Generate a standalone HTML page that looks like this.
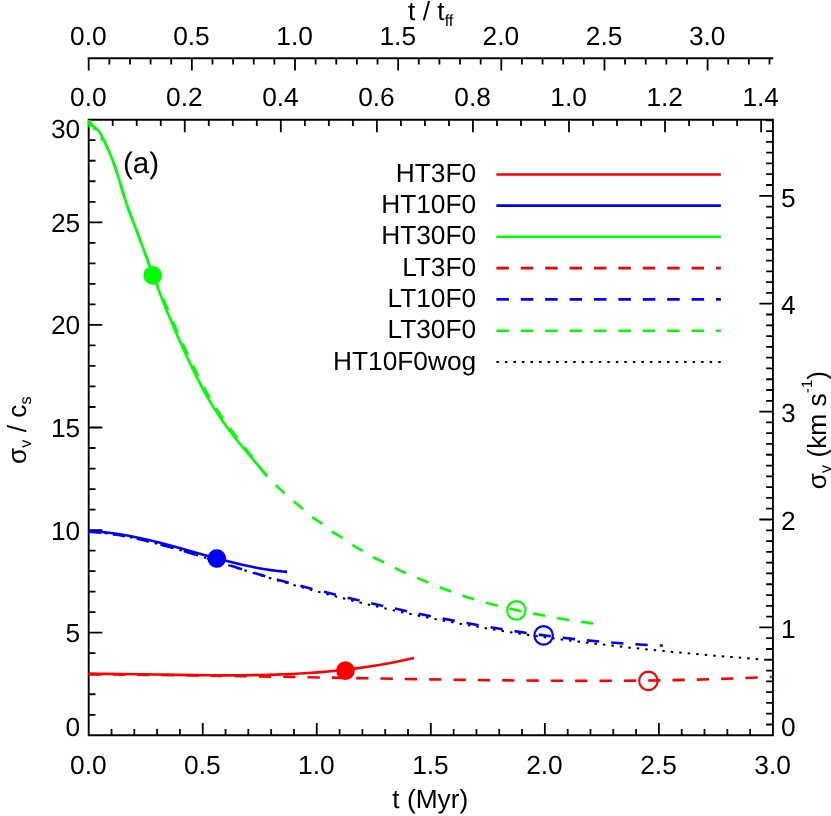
<!DOCTYPE html>
<html><head><meta charset="utf-8"><title>chart</title>
<style>html,body{margin:0;padding:0;background:#fff;overflow:hidden}svg{display:block;will-change:transform}</style>
</head><body>
<svg width="831" height="816" viewBox="0 0 831 816">
<rect width="831" height="816" fill="#fff"/>
<g stroke="#000" fill="none" stroke-linecap="butt">
<path d="M88.70 119.80 H772.95 V735.30 H88.70 Z" stroke-width="1.90" stroke-linejoin="miter"/>
<path d="M87.75 58.20 H773.25" stroke-width="1.90"/>
<path d="M111.51 735.30 V729.00 M134.32 735.30 V729.00 M157.12 735.30 V729.00 M179.93 735.30 V729.00 M202.74 735.30 V722.90 M225.55 735.30 V729.00 M248.36 735.30 V729.00 M271.16 735.30 V729.00 M293.97 735.30 V729.00 M316.78 735.30 V722.90 M339.59 735.30 V729.00 M362.40 735.30 V729.00 M385.20 735.30 V729.00 M408.01 735.30 V729.00 M430.82 735.30 V722.90 M453.63 735.30 V729.00 M476.44 735.30 V729.00 M499.24 735.30 V729.00 M522.05 735.30 V729.00 M544.86 735.30 V722.90 M567.67 735.30 V729.00 M590.48 735.30 V729.00 M613.28 735.30 V729.00 M636.09 735.30 V729.00 M658.90 735.30 V722.90 M681.71 735.30 V729.00 M704.52 735.30 V729.00 M727.32 735.30 V729.00 M750.13 735.30 V729.00 M112.72 119.80 V126.10 M136.73 119.80 V126.10 M160.75 119.80 V126.10 M184.76 119.80 V132.20 M208.78 119.80 V126.10 M232.79 119.80 V126.10 M256.81 119.80 V126.10 M280.82 119.80 V132.20 M304.84 119.80 V126.10 M328.85 119.80 V126.10 M352.87 119.80 V126.10 M376.88 119.80 V132.20 M400.89 119.80 V126.10 M424.91 119.80 V126.10 M448.93 119.80 V126.10 M472.94 119.80 V132.20 M496.96 119.80 V126.10 M520.97 119.80 V126.10 M544.99 119.80 V126.10 M569.00 119.80 V132.20 M593.02 119.80 V126.10 M617.03 119.80 V126.10 M641.05 119.80 V126.10 M665.06 119.80 V132.20 M689.08 119.80 V126.10 M713.09 119.80 V126.10 M737.11 119.80 V126.10 M761.12 119.80 V132.20 M88.70 58.20 V70.60 M109.33 58.20 V64.50 M129.96 58.20 V64.50 M150.59 58.20 V64.50 M171.22 58.20 V64.50 M191.85 58.20 V70.60 M212.48 58.20 V64.50 M233.11 58.20 V64.50 M253.74 58.20 V64.50 M274.37 58.20 V64.50 M295.00 58.20 V70.60 M315.63 58.20 V64.50 M336.26 58.20 V64.50 M356.89 58.20 V64.50 M377.52 58.20 V64.50 M398.15 58.20 V70.60 M418.78 58.20 V64.50 M439.41 58.20 V64.50 M460.04 58.20 V64.50 M480.67 58.20 V64.50 M501.30 58.20 V70.60 M521.93 58.20 V64.50 M542.56 58.20 V64.50 M563.19 58.20 V64.50 M583.82 58.20 V64.50 M604.45 58.20 V70.60 M625.08 58.20 V64.50 M645.71 58.20 V64.50 M666.34 58.20 V64.50 M686.97 58.20 V64.50 M707.60 58.20 V70.60 M728.23 58.20 V64.50 M748.86 58.20 V64.50 M769.49 58.20 V64.50 M88.70 714.78 H95.50 M88.70 694.26 H95.50 M88.70 673.74 H95.50 M88.70 653.22 H95.50 M88.70 632.70 H102.30 M88.70 612.18 H95.50 M88.70 591.66 H95.50 M88.70 571.14 H95.50 M88.70 550.62 H95.50 M88.70 530.10 H102.30 M88.70 509.58 H95.50 M88.70 489.06 H95.50 M88.70 468.54 H95.50 M88.70 448.02 H95.50 M88.70 427.50 H102.30 M88.70 406.98 H95.50 M88.70 386.46 H95.50 M88.70 365.94 H95.50 M88.70 345.42 H95.50 M88.70 324.90 H102.30 M88.70 304.38 H95.50 M88.70 283.86 H95.50 M88.70 263.34 H95.50 M88.70 242.82 H95.50 M88.70 222.30 H102.30 M88.70 201.78 H95.50 M88.70 181.26 H95.50 M88.70 160.74 H95.50 M88.70 140.22 H95.50 M772.95 724.51 H766.15 M772.95 713.72 H766.15 M772.95 702.93 H766.15 M772.95 692.14 H766.15 M772.95 681.35 H766.15 M772.95 670.56 H766.15 M772.95 659.77 H766.15 M772.95 648.98 H766.15 M772.95 638.19 H766.15 M772.95 627.40 H759.35 M772.95 616.61 H766.15 M772.95 605.82 H766.15 M772.95 595.03 H766.15 M772.95 584.24 H766.15 M772.95 573.45 H766.15 M772.95 562.66 H766.15 M772.95 551.87 H766.15 M772.95 541.08 H766.15 M772.95 530.29 H766.15 M772.95 519.50 H759.35 M772.95 508.71 H766.15 M772.95 497.92 H766.15 M772.95 487.13 H766.15 M772.95 476.34 H766.15 M772.95 465.55 H766.15 M772.95 454.76 H766.15 M772.95 443.97 H766.15 M772.95 433.18 H766.15 M772.95 422.39 H766.15 M772.95 411.60 H759.35 M772.95 400.81 H766.15 M772.95 390.02 H766.15 M772.95 379.23 H766.15 M772.95 368.44 H766.15 M772.95 357.65 H766.15 M772.95 346.86 H766.15 M772.95 336.07 H766.15 M772.95 325.28 H766.15 M772.95 314.49 H766.15 M772.95 303.70 H759.35 M772.95 292.91 H766.15 M772.95 282.12 H766.15 M772.95 271.33 H766.15 M772.95 260.54 H766.15 M772.95 249.75 H766.15 M772.95 238.96 H766.15 M772.95 228.17 H766.15 M772.95 217.38 H766.15 M772.95 206.59 H766.15 M772.95 195.80 H759.35 M772.95 185.01 H766.15 M772.95 174.22 H766.15 M772.95 163.43 H766.15 M772.95 152.64 H766.15 M772.95 141.85 H766.15 M772.95 131.06 H766.15 M772.95 120.27 H766.15" stroke-width="1.80"/>
</g>
<g fill="none" stroke-linecap="butt" stroke-linejoin="round" stroke-width="2.60">
<path d="M88.70 531.38 L90.13 531.50 M96.13 532.06 L98.62 532.32 M104.60 533.05 L107.08 533.39 M113.04 534.27 L115.50 534.67 M121.44 535.70 L123.90 536.15 M129.81 537.31 L132.26 537.81 M138.15 539.09 L140.59 539.64 M146.46 541.02 L148.89 541.61 M154.73 543.08 L157.15 543.71 M162.97 545.26 L165.38 545.92 M171.19 547.55 L173.59 548.23 M179.38 549.92 L181.77 550.63 M187.54 552.36 L189.94 553.09 M195.70 554.86 L198.08 555.60 M203.83 557.40 L206.22 558.16 M211.96 559.98 L214.34 560.74 M220.08 562.57 L222.46 563.33 M228.20 565.17 L230.59 565.93 M236.33 567.75 L238.71 568.51 M244.46 570.32 L246.85 571.07 M252.60 572.85 L254.99 573.59 M260.75 575.34 L263.15 576.07 M268.92 577.80 L271.32 578.51 M277.10 580.22 L279.49 580.92 M285.28 582.60 L287.69 583.29 M293.48 584.94 L295.89 585.62 M301.69 587.24 L304.10 587.91 M309.91 589.51 L312.32 590.17 M318.14 591.74 L320.55 592.39 M326.37 593.94 L328.79 594.57 M334.62 596.10 L337.04 596.72 M342.88 598.22 L345.30 598.83 M351.15 600.31 L353.57 600.91 M359.42 602.35 L361.85 602.95 M367.71 604.36 L370.14 604.94 M376.01 606.33 L378.44 606.90 M384.31 608.25 L386.75 608.81 M392.63 610.13 L395.07 610.67 M400.95 611.97 L403.40 612.50 M409.29 613.76 L411.73 614.28 M417.63 615.51 L420.08 616.02 M425.99 617.22 L428.44 617.72 M434.35 618.89 L436.80 619.37 M442.72 620.52 L445.17 620.99 M451.09 622.11 L453.55 622.56 M459.48 623.65 L461.94 624.10 M467.87 625.16 L470.33 625.60 M476.27 626.63 L478.73 627.06 M484.67 628.06 L487.14 628.48 M493.08 629.46 L495.55 629.86 M501.50 630.82 L503.97 631.21 M509.92 632.14 L512.39 632.53 M518.35 633.43 L520.82 633.80 M526.78 634.69 L529.26 635.05 M535.22 635.91 L537.70 636.26 M543.66 637.10 L546.14 637.44 M552.11 638.26 L554.59 638.59 M560.56 639.38 L563.04 639.71 M569.02 640.48 L571.50 640.79 M577.48 641.54 L579.96 641.85 M585.94 642.58 L588.42 642.88 M594.41 643.60 L596.89 643.89 M602.87 644.58 L605.36 644.87 M611.35 645.54 L613.83 645.82 M619.82 646.48 L622.31 646.75 M628.30 647.39 L630.78 647.66 M636.78 648.28 L639.26 648.54 M645.26 649.15 L647.75 649.40 M653.74 650.00 L656.23 650.25 M662.23 650.83 L664.72 651.07 M670.71 651.64 L673.20 651.88 M679.20 652.44 L681.69 652.67 M687.69 653.22 L690.18 653.44 M696.19 653.98 L698.68 654.20 M704.68 654.73 L707.17 654.95 M713.17 655.46 L715.66 655.68 M721.67 656.19 L724.16 656.40 M730.16 656.90 L732.66 657.11 M738.66 657.60 L741.15 657.81 M747.16 658.30 L749.65 658.50 M755.66 658.98 L758.15 659.18 M764.16 659.66 L766.00 659.80" stroke="#000" stroke-width="2.00"/>
<path d="M88.60 673.86 L104.58 673.87 L121.55 674.01 L140.52 674.26 L194.44 675.12 L211.41 675.29 L226.39 675.35 L244.36 675.27 L260.34 675.03 L276.31 674.59 L291.29 673.98 L300.27 673.50 L308.26 673.01 L317.25 672.36 L325.24 671.71 L333.22 670.97 L341.21 670.16 L349.20 669.25 L356.19 668.37 L364.18 667.29 L371.17 666.25 L379.15 664.96 L386.14 663.75 L393.13 662.45 L400.12 661.06 L407.11 659.57 L414.10 657.99" stroke="#ff0000"/>
<path d="M88.70 531.23 L93.71 531.43 L99.72 531.83 L104.73 532.28 L110.74 532.96 L116.76 533.78 L122.77 534.72 L128.78 535.78 L135.79 537.16 L141.81 538.44 L148.82 540.05 L155.84 541.75 L162.85 543.54 L176.88 547.31 L204.93 555.17 L216.96 558.46 L228.98 561.59 L240.01 564.24 L247.02 565.80 L253.03 567.04 L259.04 568.17 L265.06 569.19 L271.07 570.09 L276.08 570.75 L282.09 571.40 L287.10 571.83" stroke="#0000ff"/>
<path d="M88.8 120.2 L89.5 126.6 L90.9 124.2 M94.6 127.4 L94.2 130.2 M101.9 136.4 L101.5 140.6" stroke="#00ff00" stroke-width="2.2"/>
<path d="M88.80 120.28 L89.80 122.00 L90.80 123.47 L91.80 124.74 L92.80 125.82 L93.80 126.75 L94.80 127.57 L96.80 129.06 L97.79 129.95 L98.79 131.08 L99.79 132.49 L100.79 134.14 L101.79 135.98 L103.79 140.05 L107.79 148.70 L110.79 155.60 L112.79 160.59 L113.79 163.24 L115.78 168.90 L116.78 171.94 L118.78 178.36 L122.78 191.73 L124.78 198.22 L126.78 204.29 L128.78 209.96 L130.78 215.35 L136.77 230.93 L139.77 238.88 L154.76 279.58 L158.76 290.24 L161.76 298.05 L165.76 308.15 L169.75 317.86 L173.75 327.25 L177.75 336.36 L182.75 347.45 L187.74 358.29 L192.74 368.85 L196.74 377.00 L199.74 382.89 L202.74 388.57 L205.73 394.01 L209.73 400.92 L212.73 405.86 L216.73 412.16 L219.73 416.67 L223.72 422.45 L226.72 426.62 L230.72 431.99 L234.72 437.17 L238.72 442.19 L245.71 450.70 L259.70 467.31 L266.70 475.76" stroke="#00ff00"/>
<path d="M88.60 674.39 L100.90 674.46 M112.93 674.54 L125.23 674.64 M137.26 674.75 L149.56 674.87 M161.59 675.01 L173.89 675.15 M185.92 675.31 L198.21 675.47 M210.24 675.64 L222.54 675.83 M234.57 676.01 L246.87 676.21 M258.90 676.41 L271.20 676.61 M283.22 676.82 L295.52 677.03 M307.55 677.24 L319.85 677.46 M331.88 677.67 L344.17 677.89 M356.20 678.10 L368.50 678.32 M380.53 678.52 L392.83 678.73 M404.86 678.93 L417.15 679.13 M429.18 679.33 L441.48 679.51 M453.51 679.69 L465.81 679.86 M477.84 680.03 L490.14 680.18 M502.17 680.32 L514.46 680.45 M526.49 680.57 L538.79 680.67 M550.82 680.75 L563.12 680.81 M575.15 680.85 L587.45 680.86 M599.48 680.85 L611.78 680.81 M623.81 680.75 L636.11 680.64 M648.14 680.51 L660.44 680.34 M672.47 680.14 L684.77 679.89 M696.79 679.61 L709.09 679.27 M721.11 678.91 L733.41 678.48 M745.43 678.02 L757.72 677.49 M769.73 676.93 L771.90 676.82" stroke="#ff0000"/>
<path d="M88.70 531.71 L94.70 532.11 L100.96 532.68 M112.90 534.18 L118.71 535.09 L125.03 536.21 M136.82 538.60 L142.71 539.93 L148.80 541.39 M160.44 544.39 L172.29 547.69 M183.84 551.07 L195.61 554.65 M207.09 558.22 L218.82 561.92 M230.30 565.54 L242.04 569.20 M253.54 572.72 L265.34 576.21 M276.91 579.50 L288.77 582.75 M300.40 585.84 L312.31 588.92 M323.97 591.86 L335.91 594.81 M347.60 597.65 L359.57 600.50 M371.28 603.23 L383.27 605.97 M395.02 608.59 L407.04 611.20 M418.80 613.69 L430.85 616.17 M442.65 618.52 L454.73 620.85 M466.55 623.05 L478.66 625.22 M490.52 627.26 L502.65 629.26 M514.54 631.12 L526.71 632.93 M538.62 634.61 L550.81 636.22 M562.75 637.69 L574.97 639.09 M586.94 640.35 L599.18 641.52 M611.17 642.55 L623.43 643.48 M635.43 644.28 L647.71 644.96 M659.73 645.49 L662.80 645.61" stroke="#0000ff"/>
<path d="M88.80 120.38 L89.80 122.06 L90.80 123.45 L91.80 124.62 L92.80 125.61 L95.80 128.19 L97.05 129.38 M103.54 139.46 L105.81 144.17 L108.71 150.62 M113.22 161.77 L114.82 166.18 L117.21 173.40 M120.73 184.91 L124.32 196.67 M128.14 208.08 L129.82 212.75 L132.40 219.62 M136.71 230.85 L141.08 242.34 M145.23 253.64 L149.44 265.19 M153.78 276.41 L158.53 287.76 M163.23 298.83 L168.06 310.14 M172.83 321.19 L177.76 332.46 M182.66 343.44 L187.78 354.63 M192.91 365.51 L198.34 376.55 M203.87 387.23 L206.87 392.75 L209.84 397.98 M216.09 408.26 L219.88 414.07 L222.90 418.50 M229.95 428.25 L233.89 433.44 L237.43 438.01 M244.86 447.47 L252.42 457.18 M259.65 466.79 L263.90 472.40 L265.91 474.88 L267.25 476.46 M275.61 485.10 L278.91 488.15 L284.72 493.37 M293.70 501.36 L300.93 507.20 L303.23 509.15 M312.30 517.04 L314.93 518.95 L319.94 522.27 L322.41 524.04 M331.81 531.54 L332.95 532.30 L334.95 533.51 L339.95 536.28 L342.42 537.76 M352.22 544.73 L353.96 545.85 L355.96 547.03 L362.86 550.89 M373.19 557.06 L376.97 558.99 L384.25 562.43 M394.91 568.01 L399.99 570.44 L406.09 573.13 M417.14 577.88 L428.48 582.65 M439.63 587.16 L445.01 589.26 L451.12 591.56 M462.46 595.58 L468.03 597.41 L474.17 599.33 M485.73 602.66 L492.04 604.34 L497.63 605.76 M509.34 608.53 L521.36 611.15 M533.15 613.53 L545.23 615.82 M557.08 617.93 L569.21 619.93 M581.11 621.72 L593.10 623.34" stroke="#00ff00"/>
</g>
<polygon points="162.05,275.40 161.34,271.82 159.31,268.79 156.28,266.76 152.70,266.05 149.12,266.76 146.09,268.79 144.06,271.82 143.35,275.40 144.06,278.98 146.09,282.01 149.12,284.04 152.70,284.75 156.28,284.04 159.31,282.01 161.34,278.98" fill="#00ff00"/>
<polygon points="226.15,558.50 225.44,554.92 223.41,551.89 220.38,549.86 216.80,549.15 213.22,549.86 210.19,551.89 208.16,554.92 207.45,558.50 208.16,562.08 210.19,565.11 213.22,567.14 216.80,567.85 220.38,567.14 223.41,565.11 225.44,562.08" fill="#0000ff"/>
<polygon points="354.85,670.60 354.14,667.02 352.11,663.99 349.08,661.96 345.50,661.25 341.92,661.96 338.89,663.99 336.86,667.02 336.15,670.60 336.86,674.18 338.89,677.21 341.92,679.24 345.50,679.95 349.08,679.24 352.11,677.21 354.14,674.18" fill="#ff0000"/>
<polygon points="525.65,610.40 524.95,606.86 522.94,603.86 519.94,601.85 516.40,601.15 512.86,601.85 509.86,603.86 507.85,606.86 507.15,610.40 507.85,613.94 509.86,616.94 512.86,618.95 516.40,619.65 519.94,618.95 522.94,616.94 524.95,613.94" fill="none" stroke="#00ff00" stroke-width="2.10" stroke-linejoin="miter"/>
<polygon points="552.85,635.40 552.15,631.86 550.14,628.86 547.14,626.85 543.60,626.15 540.06,626.85 537.06,628.86 535.05,631.86 534.35,635.40 535.05,638.94 537.06,641.94 540.06,643.95 543.60,644.65 547.14,643.95 550.14,641.94 552.15,638.94" fill="none" stroke="#0000ff" stroke-width="2.10" stroke-linejoin="miter"/>
<polygon points="657.65,680.90 656.95,677.36 654.94,674.36 651.94,672.35 648.40,671.65 644.86,672.35 641.86,674.36 639.85,677.36 639.15,680.90 639.85,684.44 641.86,687.44 644.86,689.45 648.40,690.15 651.94,689.45 654.94,687.44 656.95,684.44" fill="none" stroke="#ff0000" stroke-width="2.10" stroke-linejoin="miter"/>
<g fill="none">
<path d="M496.40 174.50 H720.90" stroke="#ff0000" stroke-width="2.60"/>
<path d="M496.40 205.60 H720.90" stroke="#0000ff" stroke-width="2.60"/>
<path d="M496.40 236.80 H720.90" stroke="#00ff00" stroke-width="2.60"/>
<path d="M496.40 268.10 L508.90 268.10 M520.80 268.10 L533.30 268.10 M545.20 268.10 L557.70 268.10 M569.60 268.10 L582.10 268.10 M594.00 268.10 L606.50 268.10 M618.40 268.10 L630.90 268.10 M642.80 268.10 L655.30 268.10 M667.20 268.10 L679.70 268.10 M691.60 268.10 L704.10 268.10 M716.00 268.10 L720.90 268.10" stroke="#ff0000" stroke-width="2.60"/>
<path d="M496.40 299.40 L508.90 299.40 M520.80 299.40 L533.30 299.40 M545.20 299.40 L557.70 299.40 M569.60 299.40 L582.10 299.40 M594.00 299.40 L606.50 299.40 M618.40 299.40 L630.90 299.40 M642.80 299.40 L655.30 299.40 M667.20 299.40 L679.70 299.40 M691.60 299.40 L704.10 299.40 M716.00 299.40 L720.90 299.40" stroke="#0000ff" stroke-width="2.60"/>
<path d="M496.40 330.80 L508.90 330.80 M520.80 330.80 L533.30 330.80 M545.20 330.80 L557.70 330.80 M569.60 330.80 L582.10 330.80 M594.00 330.80 L606.50 330.80 M618.40 330.80 L630.90 330.80 M642.80 330.80 L655.30 330.80 M667.20 330.80 L679.70 330.80 M691.60 330.80 L704.10 330.80 M716.00 330.80 L720.90 330.80" stroke="#00ff00" stroke-width="2.60"/>
<path d="M496.40 362.00 L498.90 362.00 M504.93 362.00 L507.43 362.00 M513.46 362.00 L515.96 362.00 M521.99 362.00 L524.49 362.00 M530.52 362.00 L533.02 362.00 M539.05 362.00 L541.55 362.00 M547.58 362.00 L550.08 362.00 M556.11 362.00 L558.61 362.00 M564.64 362.00 L567.14 362.00 M573.17 362.00 L575.67 362.00 M581.70 362.00 L584.20 362.00 M590.23 362.00 L592.73 362.00 M598.76 362.00 L601.26 362.00 M607.29 362.00 L609.79 362.00 M615.82 362.00 L618.32 362.00 M624.35 362.00 L626.85 362.00 M632.88 362.00 L635.38 362.00 M641.41 362.00 L643.91 362.00 M649.94 362.00 L652.44 362.00 M658.47 362.00 L660.97 362.00 M667.00 362.00 L669.50 362.00 M675.53 362.00 L678.03 362.00 M684.06 362.00 L686.56 362.00 M692.59 362.00 L695.09 362.00 M701.12 362.00 L703.62 362.00 M709.65 362.00 L712.15 362.00 M718.18 362.00 L720.68 362.00" stroke="#000" stroke-width="2.00"/>
</g>
<g text-rendering="geometricPrecision" font-family="'Liberation Sans', sans-serif" font-size="26.30" fill="#000">
<text x="476.2" y="182.10" text-anchor="end">HT3F0</text>
<text x="476.2" y="213.20" text-anchor="end">HT10F0</text>
<text x="476.2" y="244.40" text-anchor="end">HT30F0</text>
<text x="476.2" y="275.70" text-anchor="end">LT3F0</text>
<text x="476.2" y="307.00" text-anchor="end">LT10F0</text>
<text x="476.2" y="338.40" text-anchor="end">LT30F0</text>
<text x="476.2" y="369.60" text-anchor="end">HT10F0wog</text>
<text x="122.9" y="172.7" font-size="29.6">(a)</text>
<text x="88.30" y="774.4" text-anchor="middle">0.0</text>
<text x="202.34" y="774.4" text-anchor="middle">0.5</text>
<text x="316.38" y="774.4" text-anchor="middle">1.0</text>
<text x="430.42" y="774.4" text-anchor="middle">1.5</text>
<text x="544.46" y="774.4" text-anchor="middle">2.0</text>
<text x="658.50" y="774.4" text-anchor="middle">2.5</text>
<text x="772.54" y="774.4" text-anchor="middle">3.0</text>
<text x="430.3" y="808.2" text-anchor="middle">t (Myr)</text>
<text x="88.30" y="106.4" text-anchor="middle">0.0</text>
<text x="184.36" y="106.4" text-anchor="middle">0.2</text>
<text x="280.42" y="106.4" text-anchor="middle">0.4</text>
<text x="376.48" y="106.4" text-anchor="middle">0.6</text>
<text x="472.54" y="106.4" text-anchor="middle">0.8</text>
<text x="568.60" y="106.4" text-anchor="middle">1.0</text>
<text x="664.66" y="106.4" text-anchor="middle">1.2</text>
<text x="760.72" y="106.4" text-anchor="middle">1.4</text>
<text x="88.30" y="44.8" text-anchor="middle">0.0</text>
<text x="191.45" y="44.8" text-anchor="middle">0.5</text>
<text x="294.60" y="44.8" text-anchor="middle">1.0</text>
<text x="397.75" y="44.8" text-anchor="middle">1.5</text>
<text x="500.90" y="44.8" text-anchor="middle">2.0</text>
<text x="604.05" y="44.8" text-anchor="middle">2.5</text>
<text x="707.20" y="44.8" text-anchor="middle">3.0</text>
<text x="408.1" y="19.5">t / t<tspan font-size="16.31" dy="6.5">ff</tspan></text>
<text x="80.2" y="735.80" text-anchor="end">0</text>
<text x="80.2" y="642.20" text-anchor="end">5</text>
<text x="80.2" y="539.60" text-anchor="end">10</text>
<text x="80.2" y="437.00" text-anchor="end">15</text>
<text x="80.2" y="334.40" text-anchor="end">20</text>
<text x="80.2" y="231.80" text-anchor="end">25</text>
<text x="80.2" y="138.40" text-anchor="end">30</text>
<text x="781" y="735.70">0</text>
<text x="781" y="638.10">1</text>
<text x="781" y="530.20">2</text>
<text x="781" y="422.30">3</text>
<text x="781" y="314.40">4</text>
<text x="781" y="206.50">5</text>
<text transform="translate(25.6 464) rotate(-90)">σ<tspan font-size="16.31" dy="5.2">v</tspan><tspan dy="-5.2"> / c</tspan><tspan font-size="16.31" dy="5.2">s</tspan></text>
<text transform="translate(825.5 489.3) rotate(-90)">σ<tspan font-size="16.31" dy="5.6">v</tspan><tspan dy="-5.6"> (km s</tspan><tspan font-size="15.2" dy="-13.3">-1</tspan><tspan dy="13.3">)</tspan></text>
</g>
</svg>
</body></html>
